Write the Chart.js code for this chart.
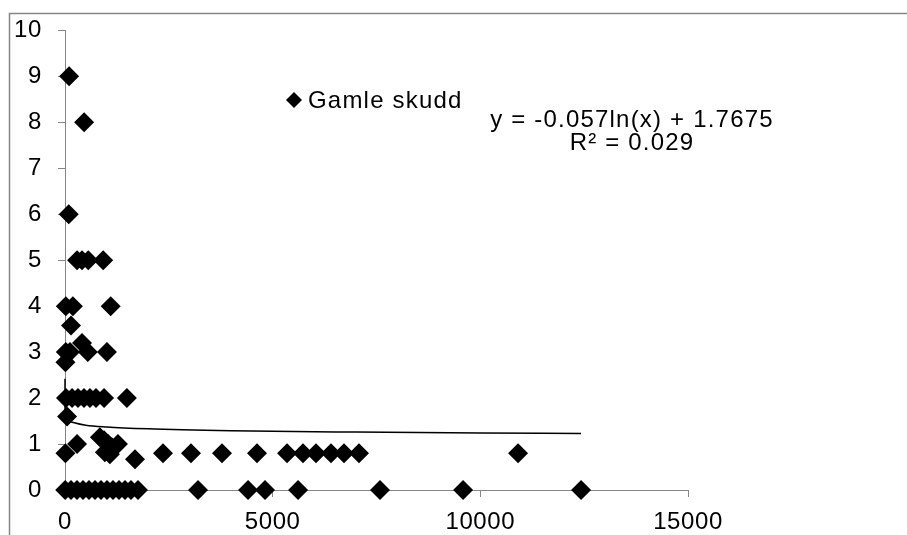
<!DOCTYPE html>
<html><head><meta charset="utf-8">
<script src="https://cdn.jsdelivr.net/npm/chart.js@4/dist/chart.umd.min.js"></script>
<style>html,body{margin:0;padding:0;background:#fff}</style>
</head><body>
<canvas id="c" width="907" height="535" style="width:907px;height:535px;display:block"></canvas>
<script>
const seriesName = 'Gamle skudd';
const xValues = [
  100, 460, 90,
  290, 410, 560, 920,
  20, 190, 1100,
  145, 410,
  20, 120, 550, 1010, 10,
  24, 170, 313, 457, 600, 746, 940, 1490,
  50,
  10, 290, 840, 940, 1035, 1130, 1275, 960, 1080, 1686,
  2360, 3034, 3780, 4623, 5346, 5731, 6044, 6405, 6718, 7079, 10908,
  5, 144, 289, 433, 578, 722, 867, 1011, 1156, 1300, 1445, 1589, 1758,
  3203, 4407, 4816, 5611, 7585, 9584, 12425
];
const yValues = [
  9, 8, 6,
  5, 5, 5, 5,
  4, 4, 4,
  3.58, 3.2,
  3, 3, 3, 3, 2.78,
  2, 2, 2, 2, 2, 2, 2, 2,
  1.6,
  0.8, 1.0, 1.15, 1.08, 1.0, 0.93, 1.0, 0.82, 0.78, 0.67,
  0.8, 0.8, 0.8, 0.8, 0.8, 0.8, 0.8, 0.8, 0.8, 0.8, 0.8,
  0, 0, 0, 0, 0, 0, 0, 0, 0, 0, 0, 0, 0,
  0, 0, 0, 0, 0, 0, 0
];
const trendX = [0.00001, 0.01, 1, 5, 20, 50, 100, 200, 500, 1000, 2000, 4000, 7000, 10000, 12425];
const trendY = [2.42, 2.03, 1.77, 1.68, 1.60, 1.54, 1.50, 1.47, 1.41, 1.37, 1.33, 1.29, 1.26, 1.24, 1.23];
const trendEquation = ['y = -0.057ln(x) + 1.7675', 'R\u00B2 = 0.029'];
const xTicks = [0, 5000, 10000, 15000];
const yTicks = [0, 1, 2, 3, 4, 5, 6, 7, 8, 9, 10];

const FONT = '"Liberation Sans", Arial, sans-serif';
const AXIS = '#868686';

const points = xValues.map((x, i) => ({x, y: yValues[i]}));
const trend = trendX.map((x, i) => ({x, y: trendY[i]}));

const decor = {
  id: 'decor',
  beforeDraw(chart) {
    const ctx = chart.ctx;
    ctx.save();
    ctx.fillStyle = '#fff';
    ctx.fillRect(0, 0, chart.width, chart.height);
    ctx.strokeStyle = AXIS;
    ctx.lineWidth = 1.5;
    ctx.strokeRect(9.5, 13.5, 1200, 1200);
    ctx.restore();
    ctx.letterSpacing = '0.6px';
  },
  afterDraw(chart) {
    const ctx = chart.ctx;
    ctx.save();
    // legend
    ctx.fillStyle = '#000';
    ctx.beginPath();
    ctx.moveTo(294, 92); ctx.lineTo(302, 100); ctx.lineTo(294, 108); ctx.lineTo(286, 100);
    ctx.closePath(); ctx.fill();
    ctx.font = '24px ' + FONT;
    ctx.letterSpacing = '1.2px';
    ctx.textAlign = 'left';
    ctx.textBaseline = 'alphabetic';
    ctx.fillText(seriesName, 308, 108);
    // trendline equation
    ctx.textAlign = 'center';
    ctx.fillText(trendEquation[0], 632, 127);
    ctx.fillText(trendEquation[1], 632, 150);
    ctx.restore();
  }
};

new Chart(document.getElementById('c'), {
  type: 'scatter',
  data: {
    datasets: [
      {
        label: 'trend',
        data: trend,
        showLine: true,
        borderColor: '#000',
        borderWidth: 1.5,
        pointRadius: 0,
        cubicInterpolationMode: 'monotone',
        clip: false
      },
      {
        label: seriesName,
        data: points,
        pointStyle: 'rectRot',
        pointRadius: 10,
        pointHoverRadius: 10,
        backgroundColor: '#000',
        borderColor: '#000',
        borderWidth: 0,
        clip: false
      }
    ]
  },
  options: {
    responsive: false,
    animation: false,
    devicePixelRatio: 1,
    layout: {padding: {left: 0, top: 29, right: 219, bottom: 0}},
    plugins: {legend: {display: false}, tooltip: {enabled: false}},
    scales: {
      x: {
        type: 'linear', min: 0, max: 15000,
        afterBuildTicks: s => { s.ticks = xTicks.map(v => ({value: v})); },
        afterFit: s => { s.height = 45; },
        ticks: {color: '#000', font: {family: FONT, size: 24}, padding: 11, maxRotation: 0, callback: v => String(v)},
        grid: {drawOnChartArea: false, drawTicks: true, tickLength: 7, color: AXIS, lineWidth: 1},
        border: {display: true, color: AXIS, width: 1}
      },
      y: {
        type: 'linear', min: 0, max: 10,
        afterBuildTicks: s => { s.ticks = yTicks.map(v => ({value: v})); },
        afterFit: s => { s.width = 65; },
        ticks: {color: '#000', font: {family: FONT, size: 24}, padding: 16, callback: v => String(v)},
        grid: {drawOnChartArea: false, drawTicks: true, tickLength: 7, color: AXIS, lineWidth: 1},
        border: {display: true, color: AXIS, width: 1}
      }
    }
  },
  plugins: [decor]
});
</script>
</body></html>
